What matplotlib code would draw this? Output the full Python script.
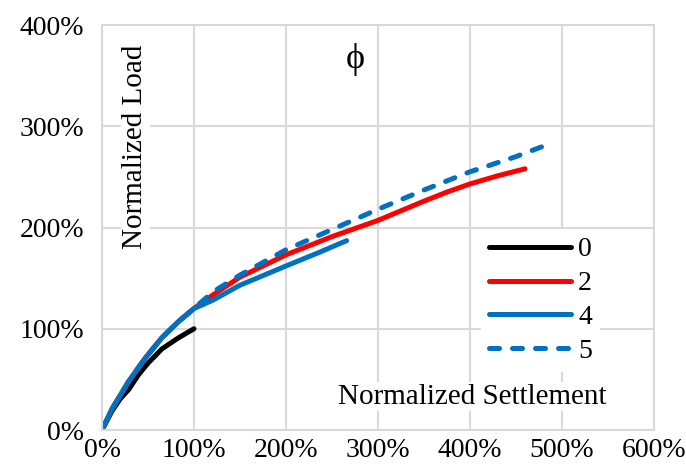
import matplotlib.pyplot as plt
from matplotlib.ticker import FuncFormatter

plt.rcParams['font.family'] = ['Liberation Serif', 'DejaVu Serif']

# normalized settlement (%) / normalized load (%)
x0 = [0, 11, 20, 29, 40, 50, 65, 83, 100]
y0 = [0, 19, 31, 40, 55, 66, 80, 91, 100]

x2 = [0, 11, 29, 47, 65, 83, 100, 120, 150, 200, 250, 300, 350, 375, 400, 430, 460]
y2 = [0, 21, 48, 71, 91, 107, 120, 133, 151, 173, 191, 207, 226, 235, 243, 251, 258]

x4 = [0, 11, 29, 47, 65, 83, 100, 120, 150, 200, 235, 266]
y4 = [0, 21, 48, 71, 91, 107, 120, 128, 143, 162, 175, 187]

x5 = [0, 11, 29, 47, 65, 83, 100, 120, 150, 200, 250, 300, 350, 400, 450, 479]
y5 = [0, 21, 48, 71, 91, 107, 120, 136, 153, 178, 198, 218, 237, 255, 270, 280]

labels = ['0', '2', '4', '5']

fig = plt.figure(figsize=(6.86, 4.75), dpi=100)
ax = fig.add_axes([0.1487, 0.0947, 0.8043, 0.8526])

lw = 3.6
ax.plot(x0, y0, color='black', lw=lw, solid_capstyle='round', solid_joinstyle='round', label=labels[0])
ax.plot(x2, y2, color='#ff0000', lw=lw, solid_capstyle='round', solid_joinstyle='round', label=labels[1])
ax.plot(x4, y4, color='#0070c0', lw=lw, solid_capstyle='round', solid_joinstyle='round', label=labels[2])
ax.plot(x5, y5, color='#0070c0', lw=lw, ls=(0, (2.0, 2.6)), dash_capstyle='round', label=labels[3])

ax.set_xlim(0, 600)
ax.set_ylim(0, 400)
ax.set_xticks(range(0, 601, 100))
ax.set_yticks(range(0, 401, 100))
pct = FuncFormatter(lambda v, p: '%d%%' % v)
ax.xaxis.set_major_formatter(pct)
ax.yaxis.set_major_formatter(pct)
ax.tick_params(length=0, labelsize=20)
ax.tick_params(axis='x', pad=6)
ax.tick_params(axis='y', pad=13)
ax.grid(True, color='#d9d9d9', lw=1.5)
ax.set_axisbelow(True)
for s in ax.spines.values():
    s.set_color('#d9d9d9')
    s.set_linewidth(1.5)

ax.text(36, 280, 'Normalized Load', rotation=90, ha='center', va='center', fontsize=21,
        bbox=dict(facecolor='white', edgecolor='none', pad=1))
ax.text(403, 33, 'Normalized Settlement', ha='center', va='center', fontsize=21,
        bbox=dict(facecolor='white', edgecolor='none', pad=1))
ax.text(275, 366, 'ϕ', ha='center', va='center', fontsize=26)

leg = ax.legend(loc='center', bbox_to_anchor=(0.795, 0.32), fontsize=20, frameon=True,
                handlelength=2.95, handletextpad=0.25, labelspacing=0.3, borderpad=0.3)
leg.get_frame().set_edgecolor('none')
leg.get_frame().set_alpha(1)

fig.savefig('out.png', dpi=100)
